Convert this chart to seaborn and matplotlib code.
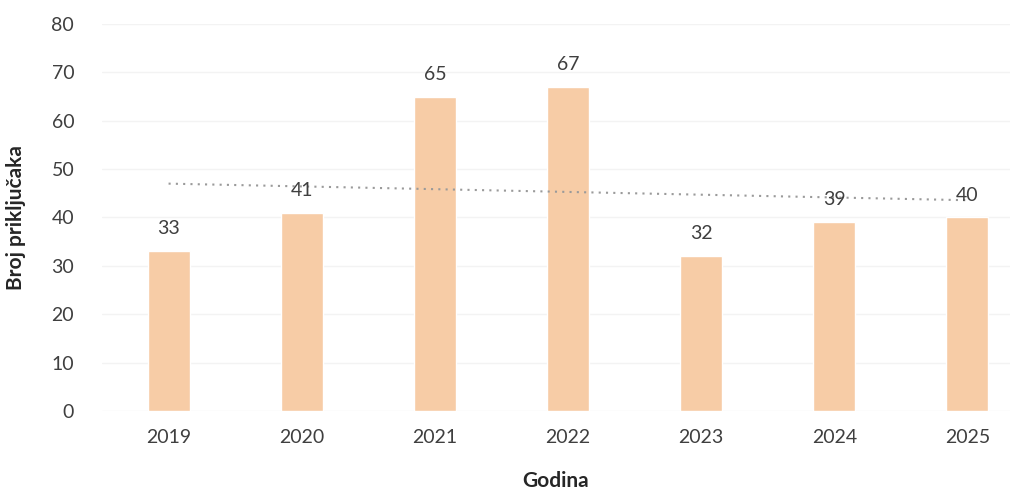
import numpy as np
import pandas as pd
import matplotlib
matplotlib.use("Agg")
import matplotlib.pyplot as plt
import seaborn as sns

years = ["2019", "2020", "2021", "2022", "2023", "2024", "2025"]
connections = [33, 41, 65, 67, 32, 39, 40]
y_ticks = [0, 10, 20, 30, 40, 50, 60, 70, 80]

df = pd.DataFrame({"godina": years, "broj": connections})
df["pos"] = np.arange(len(years))

sns.set_theme(style="white")
plt.rcParams["font.family"] = ["Lato", "DejaVu Sans"]

text_color = "#3f3f3f"
bar_color = "#F7CCA6"

fig = plt.figure(figsize=(10.1, 4.9), dpi=100)
ax = fig.add_axes([102 / 1010, 79 / 490, 908 / 1010, 387 / 490])

sns.barplot(data=df, x="godina", y="broj", color=bar_color, width=0.315,
            saturation=1, ax=ax, zorder=2)
ax.bar_label(ax.containers[0], padding=10, fontsize=14, color=text_color)

# linear trend line
sns.regplot(data=df, x="pos", y="broj", scatter=False, ci=None, truncate=True,
            line_kws={"color": "#9a9a9a", "linestyle": (0, (1, 2.5)), "linewidth": 1.5},
            ax=ax)

ax.set_xlim(-0.5, 6.32)
ax.set_ylim(0, 80)
ax.set_yticks(y_ticks)
ax.yaxis.grid(True, color="#f3f3f3", linewidth=1, zorder=0)
ax.set_axisbelow(True)
for s in ax.spines.values():
    s.set_visible(False)

ax.tick_params(axis="y", length=0, pad=20, labelsize=14, labelcolor=text_color)
ax.tick_params(axis="x", length=0, pad=13, labelsize=14, labelcolor=text_color)
ax.set_xticks(df["pos"])
ax.set_xticklabels(years)

ax.set_xlabel("Godina", fontsize=15, fontweight="bold", color="#262626", labelpad=18)
ax.set_ylabel("Broj priključaka", fontsize=15, fontweight="bold", color="#262626", labelpad=18)

fig.savefig("out.png", dpi=100)
